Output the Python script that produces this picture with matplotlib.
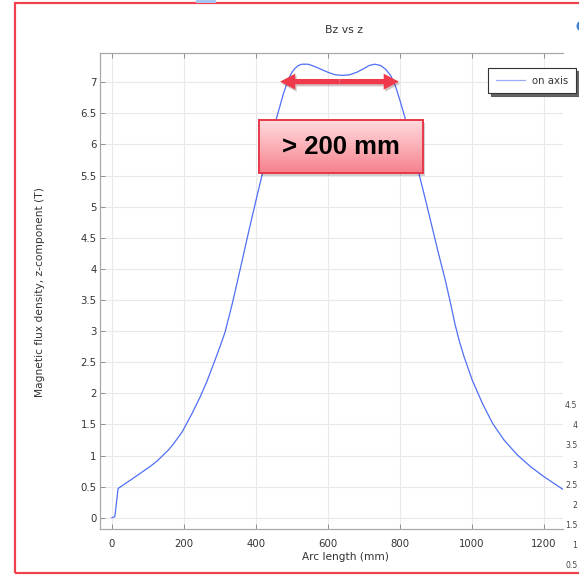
import numpy as np
import matplotlib
matplotlib.use("Agg")
import matplotlib.pyplot as plt
from matplotlib.patches import Rectangle, FancyArrowPatch, Circle
import matplotlib.patheffects as pe
from matplotlib.colors import LinearSegmentedColormap

# ---------------- data ----------------
arc_mm = [0, 8, 17, 22, 40, 59, 80, 105, 125, 143, 157, 170, 195, 221, 244, 263,
          286, 300, 314, 335, 356, 379, 402, 420, 439, 458, 476, 490, 500, 508,
          518, 528, 545, 560, 580, 600, 620, 640, 660, 680, 700, 715, 730, 746,
          760, 774, 788, 802, 816, 834, 852, 871, 889, 907, 926, 942, 953, 965,
          978, 1001, 1029, 1057, 1089, 1126, 1163, 1200, 1253]
bz_T = [0.0, 0.02, 0.47, 0.49, 0.56, 0.635, 0.72, 0.82, 0.91, 1.01, 1.09, 1.18,
        1.38, 1.66, 1.93, 2.18, 2.53, 2.75, 2.98, 3.46, 3.99, 4.58, 5.15, 5.58,
        6.02, 6.44, 6.81, 7.05, 7.16, 7.22, 7.27, 7.29, 7.29, 7.26, 7.21, 7.16,
        7.12, 7.11, 7.12, 7.16, 7.22, 7.27, 7.29, 7.27, 7.21, 7.11, 6.93, 6.67,
        6.39, 5.98, 5.55, 5.11, 4.68, 4.25, 3.82, 3.41, 3.11, 2.84, 2.59, 2.21,
        1.84, 1.52, 1.25, 1.01, 0.82, 0.66, 0.455]

x_ticks = [0, 200, 400, 600, 800, 1000, 1200]
x_tick_labels = ["0", "200", "400", "600", "800", "1000", "1200"]
y_ticks = [0, 0.5, 1, 1.5, 2, 2.5, 3, 3.5, 4, 4.5, 5, 5.5, 6, 6.5, 7]
y_tick_labels = ["0", "0.5", "1", "1.5", "2", "2.5", "3", "3.5", "4", "4.5",
                 "5", "5.5", "6", "6.5", "7"]
series_name = "on axis"
title_text = "Bz vs z"
x_label = "Arc length (mm)"
y_label = "Magnetic flux density, z-component (T)"
annot_text = "> 200 mm"
annot_span_mm = [467, 797]
annot_level_T = 7.01

# labels of the partly hidden chart at the right edge
side_ticks = [0.5, 1, 1.5, 2, 2.5, 3, 3.5, 4, 4.5]
side_labels = ["0.5", "1", "1.5", "2", "2.5", "3", "3.5", "4", "4.5"]

# ---------------- figure ----------------
W, H = 579, 575
fig = plt.figure(figsize=(W / 100, H / 100), dpi=100)
fig.patch.set_facecolor("white")
plt.rcParams["font.family"] = ["DejaVu Sans"]

def fx(px):
    return px / W

def fy(py):
    return 1 - py / H

L, R, T, B = 100, 563, 53, 529.3
ax = fig.add_axes([fx(L), fy(B), fx(R - L), (B - T) / H])
ax.set_zorder(0)

line_col = "#4f6ff5"
ax.plot(arc_mm, bz_T, color=line_col, lw=0.9, label=series_name, zorder=3,
        solid_joinstyle="round")

ax.set_xlim(-33.3, 1253)
ax.set_ylim(-0.186, 7.47)
ax.set_xticks(x_ticks)
ax.set_xticklabels(x_tick_labels)
ax.set_yticks(y_ticks)
ax.set_yticklabels(y_tick_labels)
ax.grid(True, color="#e9e9e9", lw=0.8, zorder=0)
ax.set_axisbelow(True)

for s in ["top", "bottom", "left"]:
    ax.spines[s].set_color("#a8a8a8")
    ax.spines[s].set_linewidth(0.9)
ax.spines["right"].set_visible(False)

ax.tick_params(axis="x", direction="in", length=3.6, width=0.7, color="#909090",
               top=True, labelsize=7.3, labelcolor="#333333", pad=7)
ax.tick_params(axis="y", direction="in", length=3.6, width=0.7, color="#909090",
               right=False, labelsize=7.3, labelcolor="#333333", pad=2.5)

fig.text(fx(344), fy(30), title_text, ha="center", va="center", fontsize=7.8,
         color="#333333")
fig.text(fx(345.5), fy(557), x_label, ha="center", va="center", fontsize=7.6,
         color="#333333")
fig.text(fx(40), fy(292), y_label, ha="center", va="center", rotation=90,
         fontsize=7.7, color="#333333")

leg = ax.legend(loc="upper left", bbox_to_anchor=(fx(488), fy(68)),
                bbox_transform=fig.transFigure, borderaxespad=0,
                fancybox=False, shadow={"color": "#555555", "alpha": 0.9},
                edgecolor="#333333", fontsize=7.3, handlelength=2.9,
                handletextpad=0.7, borderpad=0.75, framealpha=1)
leg.get_frame().set_linewidth(0.8)
for t in leg.get_texts():
    t.set_color("#333333")
for h in leg.get_lines():
    h.set_color("#9aaaf8")

# ---------------- double arrow ----------------
arrow_col = "#ee3a4c"
mid = (annot_span_mm[0] + annot_span_mm[1]) / 2
for end in annot_span_mm:
    ar = FancyArrowPatch((mid, annot_level_T), (end, annot_level_T),
                         arrowstyle="simple,head_length=0.95,head_width=1.0,tail_width=0.33",
                         mutation_scale=11.5, color=arrow_col, lw=0, zorder=6,
                         shrinkA=0, shrinkB=0,
                         path_effects=[pe.SimplePatchShadow(offset=(1, -1.5), alpha=0.25),
                                       pe.Normal()])
    ax.add_patch(ar)

# ---------------- gradient text box ----------------
bx0, bx1, by0, by1 = 259, 423, 120, 173
shadow = Rectangle((fx(bx0 + 2), fy(by1 + 2.5)), fx(bx1 - bx0), (by1 - by0) / H,
                   transform=fig.transFigure, facecolor="#000000", alpha=0.18,
                   edgecolor="none", zorder=1)
fig.add_artist(shadow)
bax = fig.add_axes([fx(bx0), fy(by1), fx(bx1 - bx0), (by1 - by0) / H])
bax.set_zorder(2)
cmap = LinearSegmentedColormap.from_list("pinkgrad", ["#ffdadd", "#fbb0b7", "#f6808c"])
grad = np.linspace(0, 1, 100).reshape(-1, 1)
bax.imshow(grad, aspect="auto", cmap=cmap, extent=[0, 1, 0, 1], origin="upper")
bax.set_xlim(0, 1)
bax.set_ylim(0, 1)
bax.set_xticks([])
bax.set_yticks([])
for s in bax.spines.values():
    s.set_color("#e8384a")
    s.set_linewidth(1.4)
bax.text(0.5, 0.5, annot_text, ha="center", va="center", fontsize=18.5,
         fontweight="bold", family="Liberation Sans", color="black")

# ---------------- partly hidden neighbouring chart labels ----------------
sax = fig.add_axes([fx(578), 0, 0.0001, fy(400)])
sax.set_ylim((585 - 575) / 40, (585 - 400) / 40)
sax.set_yticks(side_ticks)
sax.set_yticklabels(side_labels)
sax.set_xticks([])
sax.tick_params(axis="y", length=0, pad=0.5, labelsize=5.6, labelcolor="#444444")
for s in sax.spines.values():
    s.set_visible(False)
sax.patch.set_visible(False)

# ---------------- frame decorations ----------------
frame = Rectangle((fx(15), fy(573)), fx(600 - 15), (573 - 3) / H,
                  transform=fig.transFigure, fill=False, edgecolor="#f0404f",
                  lw=1.6, zorder=10)
fig.add_artist(frame)
fig.add_artist(Rectangle((fx(196), fy(2.5)), fx(20), 2.5 / H,
                         transform=fig.transFigure, facecolor="#a8c4f0",
                         edgecolor="none", zorder=10))
fig.add_artist(Circle((fx(582), fy(26)), 5.5 / W, transform=fig.transFigure,
                      facecolor="#3d7fd9", edgecolor="none", zorder=10))

fig.savefig("out.png", dpi=100)
